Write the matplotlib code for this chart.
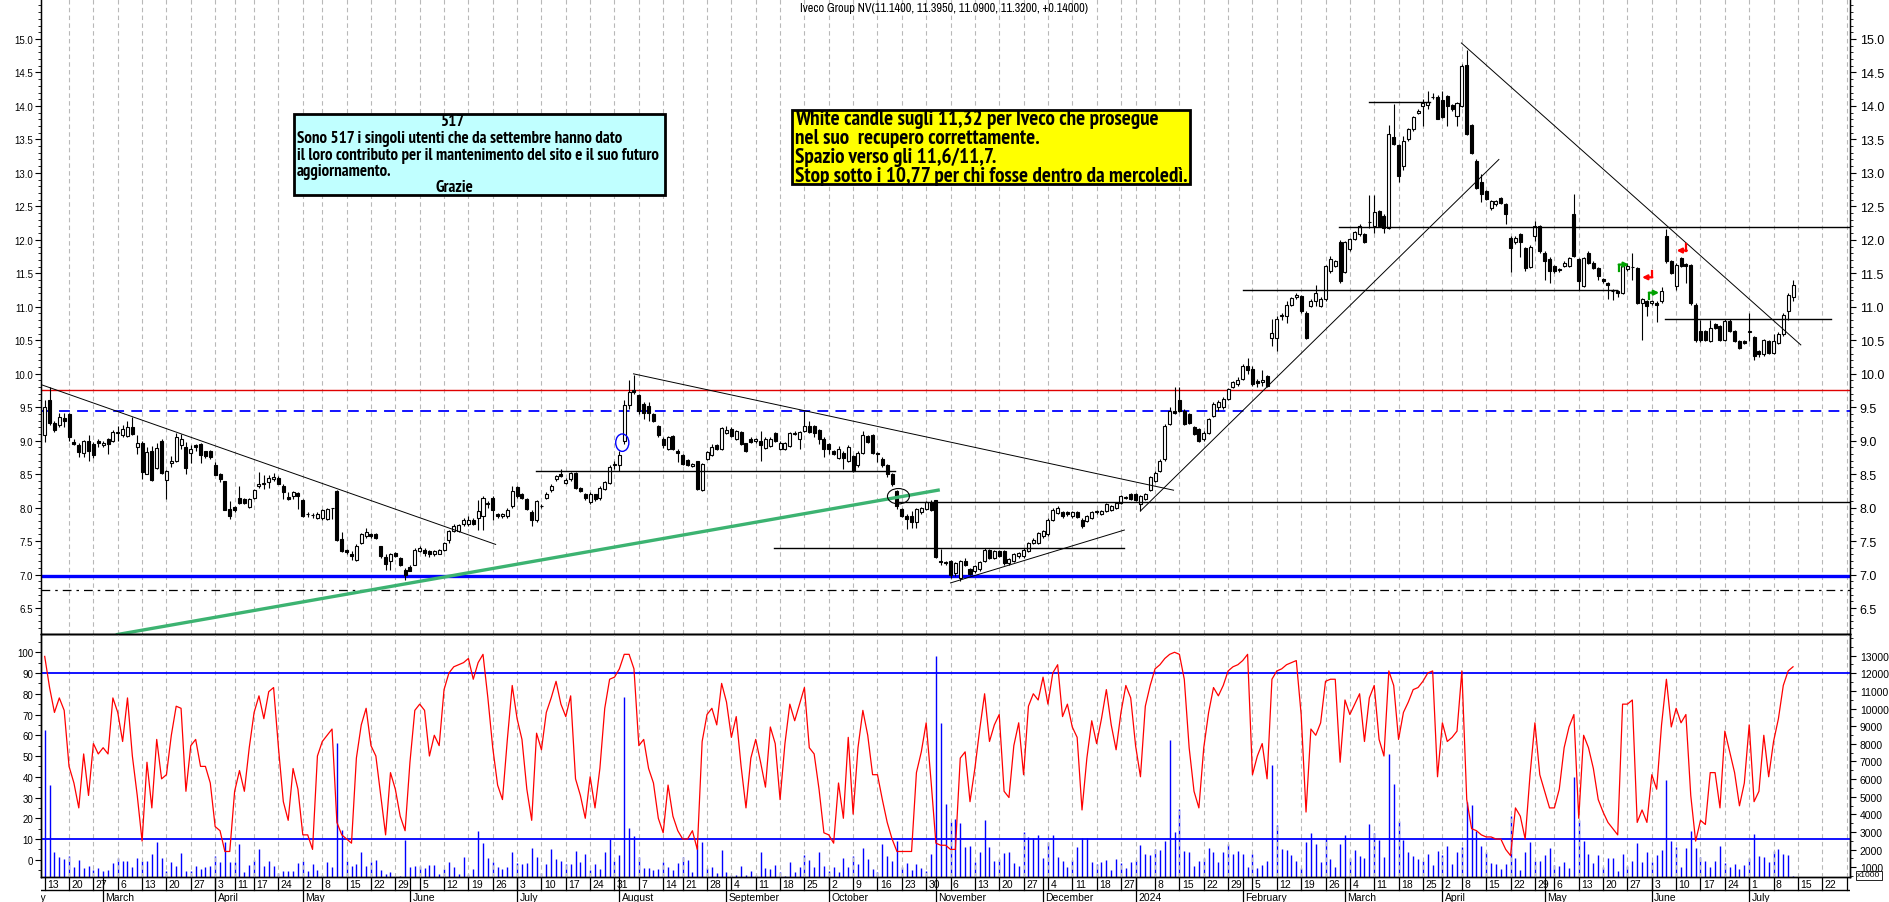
import numpy as np
import pandas as pd
import matplotlib
matplotlib.use('Agg')
import matplotlib.pyplot as plt
from matplotlib.patches import Rectangle, Ellipse
from matplotlib import font_manager as fm
from matplotlib.font_manager import FontProperties
from matplotlib.ticker import MultipleLocator

plt.rcParams['font.family'] = ['Liberation Sans', 'DejaVu Sans']


def _weight_num(w):
    if isinstance(w, (int, float)):
        return w
    return {'bold': 700, 'heavy': 800, 'black': 900, 'semibold': 600, 'demibold': 600,
            'medium': 500, 'normal': 400, 'regular': 400, 'book': 400,
            'light': 300}.get(str(w).lower(), 400)


def condensed_props(bold=True):
    """Pick an installed narrow/condensed sans face if there is one."""
    cands = []
    for f in fm.fontManager.ttflist:
        n = f.name.lower()
        st = str(f.stretch).lower()
        if 'mono' in n or 'serif' in n or 'cjk' in n:
            continue
        if str(f.style).lower() != 'normal':
            continue
        rank = None
        if 'narrow' in n:
            rank = 0
        elif 'condensed' in n or 'condensed' in st:
            rank = 1
        if rank is None:
            continue
        wn = _weight_num(f.weight)
        cands.append((rank, abs(wn - (700 if bold else 400)), f.fname))
    if cands:
        cands.sort()
        return FontProperties(fname=cands[0][2])
    return FontProperties(family=['Liberation Sans', 'DejaVu Sans'],
                          weight='bold' if bold else 'normal')


# ------------------------------------------------------------------ data
title = "Iveco Group NV(11.1400, 11.3950, 11.0900, 11.3200, +0.14000)"
first_bar = '2023-02-13'
market_holidays = ['2023-04-07', '2023-04-10', '2023-05-01', '2023-08-15', '2023-12-25',
                   '2023-12-26', '2024-01-01', '2024-03-29', '2024-04-01', '2024-05-01']

opens = [
 9.08, 9.61, 9.27, 9.23, 9.34, 9.40, 8.98, 8.93, 8.82, 9.00,
 8.95, 9.00, 8.93, 9.02, 9.00, 9.11, 9.08, 9.07, 9.20, 8.90,
 8.97, 8.50, 8.84, 8.59, 9.00, 8.41, 8.67, 8.69, 8.93, 8.90,
 8.82, 8.93, 8.95, 8.85, 8.85, 8.64, 8.50, 8.40, 7.98, 8.01,
 8.15, 8.13, 8.01, 8.15, 8.32, 8.35, 8.38, 8.43, 8.44, 8.32,
 8.16, 8.18, 8.22, 8.12, 7.91, 7.89, 7.84, 7.84, 7.83, 7.99,
 8.25, 7.53, 7.36, 7.31, 7.22, 7.47, 7.57, 7.60, 7.60, 7.42,
 7.26, 7.20, 7.32, 7.25, 7.07, 7.12, 7.15, 7.35, 7.37, 7.35,
 7.30, 7.31, 7.37, 7.52, 7.65, 7.65, 7.75, 7.75, 7.82, 7.85,
 7.87, 8.07, 8.15, 7.90, 7.87, 7.87, 8.02, 8.31, 8.20, 8.13,
 7.93, 7.82, 8.02, 8.15, 8.26, 8.42, 8.50, 8.37, 8.43, 8.52,
 8.30, 8.20, 8.08, 8.20, 8.14, 8.28, 8.37, 8.63, 8.63, 8.99,
 9.53, 9.75, 9.68, 9.55, 9.52, 9.40, 9.22, 9.02, 8.88, 9.07,
 8.85, 8.79, 8.71, 8.62, 8.69, 8.26, 8.73, 8.79, 8.93, 8.88,
 9.11, 9.18, 9.03, 9.13, 8.96, 9.03, 8.99, 8.99, 8.89, 8.92,
 9.11, 8.88, 8.88, 8.92, 9.10, 9.02, 9.15, 9.22, 9.22, 9.16,
 9.03, 8.95, 8.84, 8.74, 8.82, 8.70, 8.77, 8.63, 8.82, 9.07,
 9.09, 8.82, 8.73, 8.63, 8.50, 8.25, 7.98, 7.88, 7.88, 7.78,
 7.93, 7.98, 8.09, 8.11, 7.20, 7.18, 7.20, 7.02, 6.95, 7.20,
 7.08, 7.05, 7.08, 7.20, 7.37, 7.25, 7.35, 7.35, 7.17, 7.20,
 7.27, 7.27, 7.35, 7.47, 7.47, 7.57, 7.60, 7.82, 7.92, 7.93,
 7.93, 7.87, 7.93, 7.82, 7.80, 7.85, 7.95, 7.91, 7.95, 7.97,
 8.00, 8.07, 8.15, 8.20, 8.20, 8.05, 8.13, 8.27, 8.40, 8.55,
 8.72, 9.25, 9.45, 9.60, 9.45, 9.40, 9.20, 9.17, 9.02, 9.12,
 9.37, 9.50, 9.50, 9.62, 9.80, 9.85, 9.92, 10.12, 10.07, 9.89,
 9.87, 9.96, 10.54, 10.54, 10.86, 10.86, 11.03, 11.15, 11.16, 10.91,
 11.01, 11.09, 11.01, 11.11, 11.53, 11.61, 11.97, 11.52, 11.86, 12.01,
 12.08, 12.08, 12.26, 12.21, 12.43, 12.36, 12.18, 13.53, 13.41, 13.10,
 13.50, 13.65, 13.90, 14.00, 14.01, 14.13, 14.14, 14.09, 14.15, 14.01,
 13.85, 14.00, 14.61, 13.71, 13.18, 12.87, 12.73, 12.47, 12.53, 12.62,
 12.53, 12.03, 11.96, 12.08, 11.88, 11.60, 12.06, 12.20, 11.81, 11.72,
 11.61, 11.56, 11.61, 11.61, 12.38, 11.71, 11.31, 11.81, 11.66, 11.58,
 11.41, 11.35, 11.24, 11.23, 11.21, 11.56, 11.60, 11.58, 11.06, 11.08,
 11.05, 11.06, 11.08, 12.06, 11.68, 11.31, 11.73, 11.64, 11.62, 11.03,
 10.64, 10.64, 10.49, 10.74, 10.71, 10.51, 10.79, 10.64, 10.49, 10.49,
 10.63, 10.55, 10.34, 10.29, 10.49, 10.31, 10.46, 10.59, 10.93, 11.14]

closes = [
 9.50, 9.27, 9.16, 9.35, 9.29, 9.05, 8.95, 8.83, 8.99, 8.85,
 8.78, 8.96, 8.97, 8.95, 9.13, 9.13, 9.18, 9.20, 9.10, 8.97,
 8.53, 8.83, 8.41, 8.89, 8.52, 8.54, 8.70, 9.05, 9.03, 8.59,
 8.88, 8.90, 8.78, 8.77, 8.76, 8.49, 8.43, 7.97, 7.88, 7.96,
 8.07, 8.07, 8.13, 8.26, 8.35, 8.37, 8.44, 8.45, 8.36, 8.23,
 8.13, 8.23, 8.18, 7.88, 7.90, 7.89, 7.91, 7.96, 7.98, 7.99,
 7.52, 7.35, 7.33, 7.27, 7.42, 7.60, 7.64, 7.57, 7.55, 7.27,
 7.16, 7.30, 7.28, 7.15, 7.00, 7.06, 7.37, 7.40, 7.32, 7.30,
 7.35, 7.36, 7.47, 7.65, 7.73, 7.74, 7.82, 7.82, 7.76, 7.95,
 8.15, 8.05, 7.97, 7.87, 7.90, 7.97, 8.25, 8.17, 8.15, 7.98,
 7.82, 8.10, 8.03, 8.21, 8.33, 8.47, 8.47, 8.41, 8.52, 8.30,
 8.25, 8.14, 8.21, 8.13, 8.30, 8.38, 8.60, 8.65, 8.79, 9.53,
 9.72, 9.72, 9.45, 9.42, 9.42, 9.30, 9.08, 8.94, 9.05, 8.88,
 8.82, 8.65, 8.64, 8.65, 8.28, 8.65, 8.83, 8.90, 8.88, 9.19,
 9.16, 9.07, 9.14, 8.95, 8.85, 8.98, 9.02, 8.93, 9.03, 9.03,
 9.00, 8.97, 8.96, 9.11, 9.12, 9.13, 9.22, 9.13, 9.12, 9.02,
 8.88, 8.87, 8.80, 8.88, 8.74, 8.91, 8.55, 8.82, 9.09, 8.98,
 8.82, 8.80, 8.63, 8.50, 8.35, 8.03, 7.88, 7.83, 7.78, 7.98,
 7.99, 8.08, 7.97, 7.26, 7.18, 7.17, 7.00, 7.17, 7.20, 7.15,
 7.01, 7.13, 7.18, 7.37, 7.25, 7.35, 7.28, 7.17, 7.23, 7.30,
 7.32, 7.37, 7.47, 7.52, 7.62, 7.65, 7.82, 7.97, 8.00, 7.87,
 7.90, 7.93, 7.86, 7.72, 7.87, 7.93, 7.93, 7.95, 8.05, 8.02,
 8.07, 8.17, 8.16, 8.13, 8.12, 8.17, 8.20, 8.45, 8.52, 8.70,
 9.22, 9.45, 9.42, 9.45, 9.25, 9.27, 9.10, 9.00, 9.12, 9.32,
 9.55, 9.57, 9.62, 9.77, 9.87, 9.90, 10.12, 10.05, 9.84, 9.86,
 9.91, 9.82, 10.61, 10.81, 10.88, 11.03, 11.13, 11.17, 10.93, 10.54,
 11.09, 11.21, 11.11, 11.61, 11.71, 11.68, 11.38, 11.96, 12.01, 12.11,
 12.21, 11.97, 12.27, 12.41, 12.21, 12.18, 13.58, 13.43, 12.95, 13.48,
 13.65, 13.83, 13.93, 14.04, 14.06, 14.14, 13.81, 13.83, 14.00, 13.95,
 14.04, 14.60, 13.58, 13.30, 12.78, 12.68, 12.61, 12.58, 12.58, 12.55,
 12.38, 11.88, 12.03, 11.96, 11.58, 11.90, 12.21, 11.83, 11.68, 11.53,
 11.53, 11.55, 11.66, 11.73, 11.76, 11.38, 11.73, 11.66, 11.58, 11.46,
 11.38, 11.32, 11.23, 11.21, 11.61, 11.61, 11.60, 11.06, 11.11, 11.01,
 11.08, 11.03, 11.23, 11.68, 11.51, 11.63, 11.61, 11.61, 11.05, 10.50,
 10.50, 10.51, 10.69, 10.69, 10.51, 10.79, 10.64, 10.49, 10.39, 10.46,
 10.64, 10.26, 10.29, 10.50, 10.31, 10.49, 10.59, 10.88, 11.18, 11.32]

highs = [
 9.60, 9.80, 9.30, 9.42, 9.42, 9.42, 9.03, 8.96, 9.01, 9.08,
 8.98, 9.03, 9.00, 9.04, 9.16, 9.22, 9.23, 9.30, 9.35, 9.08,
 8.99, 8.90, 8.92, 8.96, 9.03, 8.56, 8.77, 9.12, 9.10, 8.98,
 8.93, 8.95, 8.97, 8.85, 8.86, 8.68, 8.52, 8.40, 8.10, 8.03,
 8.33, 8.15, 8.15, 8.28, 8.53, 8.48, 8.48, 8.52, 8.47, 8.35,
 8.23, 8.25, 8.23, 8.13, 7.93, 7.92, 7.93, 7.98, 7.99, 8.00,
 8.27, 7.64, 7.38, 7.35, 7.45, 7.62, 7.70, 7.62, 7.62, 7.42,
 7.30, 7.32, 7.34, 7.26, 7.10, 7.15, 7.40, 7.42, 7.39, 7.36,
 7.37, 7.38, 7.48, 7.67, 7.75, 7.76, 7.84, 7.87, 7.84, 8.12,
 8.17, 8.10, 8.17, 7.92, 7.92, 7.99, 8.32, 8.33, 8.22, 8.14,
 7.97, 8.12, 8.06, 8.23, 8.35, 8.49, 8.57, 8.44, 8.53, 8.53,
 8.31, 8.22, 8.23, 8.21, 8.32, 8.40, 8.63, 8.70, 8.85, 9.60,
 9.90, 9.98, 9.70, 9.58, 9.57, 9.42, 9.24, 9.05, 9.07, 9.08,
 8.87, 8.80, 8.73, 8.67, 8.70, 8.67, 8.85, 8.95, 8.95, 9.21,
 9.22, 9.20, 9.16, 9.15, 8.97, 9.05, 9.04, 9.15, 9.05, 9.05,
 9.13, 8.99, 8.98, 9.13, 9.15, 9.15, 9.45, 9.30, 9.24, 9.18,
 9.05, 8.97, 8.86, 8.92, 8.84, 8.93, 8.79, 8.84, 9.15, 9.09,
 9.10, 8.83, 8.75, 8.65, 8.52, 8.26, 8.00, 7.90, 7.95, 8.00,
 8.01, 8.10, 8.11, 8.12, 7.38, 7.20, 7.22, 7.19, 7.22, 7.25,
 7.10, 7.15, 7.20, 7.39, 7.38, 7.37, 7.37, 7.36, 7.25, 7.32,
 7.34, 7.40, 7.49, 7.54, 7.64, 7.67, 7.84, 7.99, 8.02, 7.95,
 7.95, 7.95, 7.95, 7.84, 7.89, 7.95, 7.97, 7.97, 8.07, 8.04,
 8.09, 8.19, 8.18, 8.22, 8.22, 8.19, 8.22, 8.47, 8.54, 8.72,
 9.25, 9.50, 9.80, 9.80, 9.47, 9.42, 9.22, 9.19, 9.14, 9.34,
 9.57, 9.60, 9.65, 9.79, 9.89, 9.95, 10.14, 10.23, 10.12, 9.92,
 10.05, 9.98, 10.81, 10.86, 10.90, 11.08, 11.15, 11.20, 11.18, 10.93,
 11.11, 11.33, 11.14, 11.63, 11.76, 11.70, 11.99, 11.98, 12.03, 12.13,
 12.23, 12.10, 12.67, 12.67, 12.45, 12.38, 13.72, 14.03, 13.43, 13.55,
 13.67, 13.85, 13.95, 14.10, 14.23, 14.20, 14.17, 14.23, 14.16, 14.03,
 14.06, 14.62, 14.83, 13.73, 13.20, 12.98, 12.75, 12.60, 12.60, 12.64,
 12.55, 12.05, 12.05, 12.10, 11.90, 11.92, 12.28, 12.22, 11.83, 11.74,
 11.63, 11.58, 11.68, 11.75, 12.68, 11.73, 11.75, 11.83, 11.68, 11.60,
 11.43, 11.37, 11.26, 11.25, 11.63, 11.66, 11.80, 11.60, 11.13, 11.10,
 11.10, 11.08, 11.30, 12.16, 11.70, 11.65, 11.75, 11.66, 11.64, 11.05,
 10.80, 10.66, 10.80, 10.76, 10.73, 10.81, 10.81, 10.66, 10.51, 10.51,
 10.91, 10.57, 10.36, 10.52, 10.51, 10.60, 10.62, 10.90, 11.20, 11.395]

lows = [
 8.98, 9.23, 9.13, 9.20, 9.20, 9.00, 8.93, 8.75, 8.75, 8.70,
 8.74, 8.90, 8.90, 8.80, 8.98, 9.00, 9.06, 9.06, 9.08, 8.80,
 8.43, 8.50, 8.40, 8.58, 8.50, 8.13, 8.60, 8.68, 8.88, 8.50,
 8.67, 8.85, 8.66, 8.74, 8.72, 8.48, 8.38, 7.96, 7.83, 7.93,
 8.05, 8.05, 7.99, 8.13, 8.30, 8.28, 8.30, 8.40, 8.35, 8.13,
 8.11, 8.13, 7.98, 7.86, 7.86, 7.85, 7.83, 7.82, 7.82, 7.83,
 7.50, 7.34, 7.30, 7.22, 7.20, 7.45, 7.55, 7.55, 7.53, 7.25,
 7.07, 7.07, 7.26, 7.13, 6.92, 7.05, 7.15, 7.33, 7.28, 7.26,
 7.28, 7.30, 7.35, 7.47, 7.63, 7.63, 7.73, 7.72, 7.74, 7.67,
 7.67, 8.00, 7.82, 7.85, 7.85, 7.85, 8.00, 8.15, 8.13, 7.96,
 7.72, 7.78, 7.99, 8.13, 8.24, 8.40, 8.45, 8.35, 8.40, 8.28,
 8.23, 8.12, 8.06, 8.10, 8.12, 8.26, 8.35, 8.58, 8.55, 8.95,
 9.47, 9.70, 9.40, 9.33, 9.30, 9.28, 9.06, 8.89, 8.86, 8.86,
 8.68, 8.63, 8.62, 8.60, 8.27, 8.25, 8.71, 8.77, 8.86, 8.86,
 9.10, 9.05, 9.01, 8.93, 8.83, 8.96, 8.97, 8.70, 8.87, 8.90,
 8.98, 8.86, 8.86, 8.90, 9.08, 8.88, 9.13, 9.11, 9.05, 8.95,
 8.75, 8.80, 8.78, 8.72, 8.58, 8.68, 8.53, 8.61, 8.80, 8.96,
 8.80, 8.68, 8.61, 8.45, 8.33, 7.98, 7.86, 7.68, 7.70, 7.70,
 7.91, 7.96, 7.95, 7.24, 7.15, 7.14, 6.95, 6.98, 6.90, 7.13,
 6.99, 7.03, 7.06, 7.18, 7.23, 7.23, 7.26, 7.15, 7.15, 7.18,
 7.25, 7.25, 7.33, 7.45, 7.45, 7.55, 7.58, 7.80, 7.90, 7.85,
 7.88, 7.85, 7.84, 7.70, 7.78, 7.83, 7.91, 7.89, 7.93, 7.95,
 7.98, 8.05, 8.13, 8.11, 8.10, 7.95, 8.11, 8.25, 8.38, 8.53,
 8.70, 9.23, 9.40, 9.43, 9.23, 9.25, 9.08, 8.98, 9.00, 9.10,
 9.35, 9.45, 9.48, 9.60, 9.78, 9.82, 9.90, 10.00, 9.82, 9.80,
 9.82, 9.80, 10.41, 10.34, 10.80, 10.76, 11.01, 11.12, 10.90, 10.52,
 10.99, 11.01, 10.99, 11.09, 11.51, 11.59, 11.36, 11.50, 11.84, 11.99,
 12.06, 11.95, 12.18, 12.10, 12.19, 12.10, 12.16, 13.41, 12.86, 13.05,
 13.48, 13.63, 13.88, 13.70, 13.95, 14.10, 13.80, 13.82, 13.70, 13.93,
 13.70, 13.98, 13.56, 13.28, 12.76, 12.56, 12.59, 12.45, 12.51, 12.53,
 12.24, 11.52, 11.94, 11.75, 11.53, 11.58, 11.98, 11.81, 11.40, 11.36,
 11.51, 11.52, 11.59, 11.59, 11.74, 11.25, 11.29, 11.64, 11.56, 11.40,
 11.36, 11.12, 11.10, 11.14, 11.19, 11.54, 11.40, 11.04, 10.51, 10.86,
 11.03, 10.77, 11.06, 11.66, 11.49, 11.25, 11.59, 11.35, 11.03, 10.48,
 10.48, 10.49, 10.47, 10.67, 10.49, 10.49, 10.62, 10.47, 10.37, 10.44,
 10.49, 10.20, 10.25, 10.27, 10.29, 10.29, 10.44, 10.57, 10.80, 11.09]

oscillator = [
 98, 83, 71, 78, 72, 45, 37, 25, 51, 31,
 56, 51, 54, 51, 78, 71, 57, 78, 50, 31,
 9, 47, 25, 58, 39, 41, 60, 74, 73, 33,
 55, 58, 45, 45, 37, 16, 14, 4, 4, 33,
 43, 33, 54, 71, 79, 68, 81, 83, 54, 28,
 19, 44, 34, 12, 12, 5, 50, 57, 60, 63,
 18, 12, 10, 8, 49, 65, 73, 55, 50, 31,
 12, 42, 34, 21, 14, 47, 72, 75, 72, 50,
 60, 55, 82, 90, 93, 94, 95, 97, 87, 95,
 99, 78, 54, 36, 29, 58, 84, 68, 58, 34,
 19, 61, 53, 71, 78, 86, 75, 69, 79, 39,
 31, 20, 40, 25, 44, 73, 87, 88, 92, 99,
 99, 92, 55, 58, 44, 37, 20, 13, 36, 21,
 14, 10, 10, 14, 5, 57, 70, 73, 65, 85,
 76, 59, 69, 45, 25, 49, 58, 47, 35, 64,
 56, 29, 56, 75, 67, 75, 83, 54, 51, 34,
 13, 12, 8, 37, 20, 59, 22, 54, 72, 60,
 41, 41, 29, 18, 10, 4, 4, 4, 4, 42,
 52, 66, 38, 8, 7, 7, 5, 5, 49, 52,
 28, 44, 63, 80, 57, 65, 70, 33, 30, 55,
 66, 41, 74, 80, 77, 88, 75, 90, 94, 69,
 75, 64, 59, 24, 49, 67, 56, 68, 82, 65,
 53, 71, 84, 78, 55, 40, 74, 84, 92, 94,
 97, 99, 100, 99, 87, 54, 33, 25, 54, 71,
 83, 79, 84, 91, 93, 94, 96, 99, 41, 50,
 56, 39, 87, 91, 92, 94, 95, 96, 70, 23,
 63, 60, 66, 86, 87, 87, 47, 77, 70, 75,
 80, 57, 78, 84, 58, 50, 91, 84, 58, 71,
 76, 82, 83, 86, 90, 91, 40, 66, 57, 59,
 62, 91, 29, 15, 14, 12, 11, 11, 10, 10,
 5, 2, 25, 21, 10, 41, 66, 41, 33, 25,
 25, 34, 54, 64, 70, 20, 60, 54, 44, 29,
 23, 18, 15, 12, 75, 75, 77, 18, 24, 18,
 41, 34, 65, 87, 64, 73, 66, 70, 31, 9,
 19, 17, 42, 42, 25, 62, 52, 42, 26, 37,
 65, 28, 33, 60, 40, 57, 68, 84, 91, 93]

volume_k = [
 8785, 5667, 1849, 1565, 1470, 1622, 998, 1433, 960, 1055,
 866, 960, 772, 866, 1244, 1528, 1377, 1339, 1036, 1528,
 1377, 1339, 1755, 2454, 1528, 810, 1282, 1055, 1812, 810,
 810, 1055, 904, 998, 1055, 1660, 1282, 2416, 1282, 1282,
 2322, 753, 1131, 1433, 2038, 1093, 1358, 1093, 677, 810,
 810, 810, 1244, 1339, 810, 1188, 866, 583, 1320, 1036,
 8029, 3115, 1377, 1093, 1188, 1849, 1093, 1320, 1414, 866,
 620, 753, 526, 526, 2567, 998, 1093, 1055, 942, 1131,
 1131, 620, 904, 1282, 998, 620, 1565, 620, 904, 3078,
 2378, 1509, 1282, 998, 904, 998, 1887, 1244, 1188, 1244,
 2095, 1565, 677, 1188, 2038, 1470, 1339, 1188, 1188, 1944,
 1282, 1755, 866, 1188, 904, 1887, 2605, 1377, 1698, 10638,
 3229, 2756, 1603, 960, 960, 866, 904, 1320, 1036, 866,
 1244, 1584, 1414, 753, 2265, 2454, 960, 1036, 677, 1981,
 753, 564, 583, 1093, 564, 810, 564, 1887, 960, 904,
 1131, 753, 526, 1282, 753, 998, 1698, 1433, 1036, 1887,
 1055, 772, 998, 715, 1528, 1036, 1622, 1188, 2095, 1470,
 904, 753, 2322, 1660, 1377, 2511, 998, 1244, 866, 1188,
 942, 810, 1755, 13000, 9182, 4590, 3588, 3739, 3512, 2170,
 2227, 1282, 1849, 3682, 2170, 1358, 1470, 1812, 1887, 1244,
 1055, 3021, 2737, 2643, 2851, 1528, 2454, 2851, 1565, 1358,
 998, 1433, 2133, 2643, 2643, 1282, 1188, 1282, 1414, 866,
 1470, 1244, 960, 1282, 1414, 2265, 1736, 1717, 2038, 1981,
 2511, 8237, 3021, 4306, 1944, 1849, 1055, 1377, 1528, 2095,
 1849, 1282, 1849, 2322, 1755, 1944, 1755, 998, 1755, 960,
 1131, 1377, 6800, 3399, 2038, 1981, 1698, 1377, 960, 2454,
 2945, 2322, 1320, 2643, 1470, 1036, 2322, 2832, 1509, 1981,
 1660, 1528, 3455, 2926, 2567, 1565, 7425, 5724, 3645, 2567,
 1887, 1622, 1470, 1377, 1755, 1150, 1944, 1717, 2227, 1188,
 1887, 2170, 4684, 4533, 3078, 2227, 1849, 1244, 1188, 904,
 1188, 3890, 1509, 866, 1887, 2454, 1377, 1377, 1698, 2076,
 1131, 1055, 1320, 960, 6100, 3700, 2511, 1755, 1244, 1698,
 998, 1509, 1509, 810, 1755, 1055, 1377, 2378, 1320, 1887,
 1282, 1698, 1981, 5950, 2511, 2133, 1036, 2095, 3078, 2095,
 1565, 1377, 1036, 1377, 2227, 1225, 998, 1188, 904, 1131,
 1528, 2888, 1660, 1565, 1320, 1906, 2038, 1755, 1698, 520]

# drawn analysis objects (bar index, price)
red_level = 9.75
blue_dashed_level = 9.44
blue_level = 6.98
dashdot_level = 6.77
flat_lines = [(8.55, 100.8, 174.5), (8.09, 175.5, None), (7.40, 149.8, 221.7),
              (14.06, 272.0, 284.4), (12.19, 265.8, None), (11.25, 246.0, 322.9),
              (10.81, 332.8, 366.7)]
trend_lines = [(-0.66, 9.835, 92.6, 7.45), (120.9, 9.998, 231.8, 8.26),
               (186.0, 6.875, 221.7, 7.665), (225.0, 7.95, 298.6, 13.20),
               (290.9, 14.94, 360.6, 10.43)]
green_line = (14.6, 6.10, 183.8, 8.265)
osc_levels = [90, 10]
green_arrows = [(323.9, 11.63), (330.1, 11.21)]
red_arrows = [(329.4, 11.44), (336.5, 11.84)]

info_lines = ["Sono 517 i singoli utenti che da settembre hanno dato",
              "il loro contributo per il mantenimento del sito e il suo futuro",
              "aggiornamento."]
comment_lines = ["White candle sugli 11,32 per Iveco che prosegue",
                 "nel suo  recupero correttamente.",
                 "Spazio verso gli 11,6/11,7.",
                 "Stop sotto i 10,77 per chi fosse dentro da mercoledì."]

# ------------------------------------------------------------------ calendar
hol = pd.to_datetime(market_holidays)
cal = pd.bdate_range('2023-01-30', '2024-08-02')
cal = cal[~cal.isin(hol)]
pos = np.arange(len(cal)) - cal.get_loc(pd.Timestamp(first_bar))
week_id = np.asarray((cal - pd.Timestamp('2023-01-02')).days) // 7
week_start = np.r_[True, np.diff(week_id) != 0]
month_start = np.r_[True, np.diff(np.asarray(cal.month)) != 0]

# ------------------------------------------------------------------ layout
W, HH = 1890, 903
X0, DX = 44.7, 4.87
LPX, RPX = 41.5, 1850
XL = ((LPX - X0) / DX, (RPX - X0) / DX)


def fx(p):
    return p / W


def fy(p):
    return 1 - p / HH


fig = plt.figure(figsize=(W / 100, HH / 100), dpi=100)
fig.patch.set_facecolor('white')
ax = fig.add_axes([fx(LPX), fy(635), (RPX - LPX) / W, 635 / HH])
axl = fig.add_axes([fx(LPX), fy(878), (RPX - LPX) / W, (878 - 635) / HH])
axd = fig.add_axes([fx(LPX), 0, (RPX - LPX) / W, 25 / HH])

GRID = dict(color='#b8b8b8', lw=0.8, ls=(0, (4, 3)), zorder=0)
for w in pos[week_start]:
    if XL[0] + 1 < w < XL[1]:
        ax.axvline(w, **GRID)
        axl.axvline(w, **GRID)

# ---- price panel
x = np.arange(len(closes))
O, C, Hi, Lo = map(np.array, (opens, closes, highs, lows))
up = C >= O
ax.vlines(x, Lo, Hi, color='black', lw=0.8, zorder=3)
ax.bar(x[up], C[up] - O[up], bottom=O[up], width=0.62, color='white',
       edgecolor='black', lw=0.8, zorder=4)
ax.bar(x[~up], O[~up] - C[~up], bottom=C[~up], width=0.62, color='black',
       edgecolor='black', lw=0.8, zorder=4)

ax.axhline(red_level, color='#e00000', lw=1.0, zorder=2)
ax.axhline(blue_dashed_level, color='#0000ff', lw=1.3, ls=(0, (6, 4)), zorder=2)
ax.axhline(blue_level, color='#0000ff', lw=2.4, zorder=2)
ax.axhline(dashdot_level, color='black', lw=0.9, ls=(0, (7, 4, 2, 4)), zorder=2)
for p, a, b in flat_lines:
    ax.plot([a, XL[1] if b is None else b], [p, p], color='black', lw=1.0, zorder=5)
for a, pa, b, pb in trend_lines:
    ax.plot([a, b], [pa, pb], color='black', lw=0.7, zorder=5)
ax.plot([green_line[0], green_line[2]], [green_line[1], green_line[3]],
        color='#3cb371', lw=2.4, zorder=5, solid_capstyle='butt')
ax.add_patch(Ellipse((118.6, 8.97), 2.7, 0.26, fill=False, ec='#0000ff', lw=1.0, zorder=6))
ax.add_patch(Ellipse((175.3, 8.17), 4.5, 0.23, fill=False, ec='black', lw=0.8, zorder=6))
for gx, gy in green_arrows:
    ax.plot([gx - 0.6, gx - 0.6], [gy - 0.09, gy], color='#00a000', lw=1.6, zorder=7)
    ax.annotate('', xy=(gx + 1.4, gy), xytext=(gx - 0.7, gy),
                arrowprops=dict(arrowstyle='-|>', color='#00a000', lw=1.6,
                                mutation_scale=7, shrinkA=0, shrinkB=0), zorder=7)
for rx, ry in red_arrows:
    ax.plot([rx + 0.6, rx + 0.6], [ry, ry + 0.09], color='#ff0000', lw=1.6, zorder=7)
    ax.annotate('', xy=(rx - 1.4, ry), xytext=(rx + 0.7, ry),
                arrowprops=dict(arrowstyle='-|>', color='#ff0000', lw=1.6,
                                mutation_scale=7, shrinkA=0, shrinkB=0), zorder=7)

ax.set_xlim(*XL)
ax.set_ylim(6.112, 15.597)
ax.set_xticks([])
ax.spines['top'].set_visible(False)
for s in ('left', 'right', 'bottom'):
    ax.spines[s].set_color('black')
    ax.spines[s].set_linewidth(1.0)
pt = np.arange(6.5, 15.01, 0.5)
ax.set_yticks(pt)
ax.set_yticklabels([f'{v:.1f}' for v in pt])
ax.yaxis.set_minor_locator(MultipleLocator(0.1))
ax.tick_params(axis='y', which='major', length=4, width=0.8, labelsize=7, pad=2)
ax.tick_params(axis='y', which='minor', length=2, width=0.6)
axr = ax.twinx()
axr.set_ylim(ax.get_ylim())
axr.set_yticks(pt)
axr.set_yticklabels([f'{v:.1f}' for v in pt])
axr.yaxis.set_minor_locator(MultipleLocator(0.1))
axr.tick_params(axis='y', which='major', length=4, width=0.8, labelsize=9, pad=3)
axr.tick_params(axis='y', which='minor', length=2, width=0.6)
axr.spines['top'].set_visible(False)

# ---- oscillator / volume panel
axv = axl.twinx()
axl.set_zorder(axv.get_zorder() + 1)
axl.patch.set_visible(False)
axv.vlines(x, 0, volume_k, color='#0000ff', lw=1.0)
axv.set_ylim(450, 14228)
axv.set_yticks(np.arange(1000, 13001, 1000))
axv.yaxis.set_minor_locator(MultipleLocator(500))
axv.tick_params(axis='y', which='major', length=4, width=0.8, labelsize=7.5, pad=3)
axv.tick_params(axis='y', which='minor', length=2, width=0.6)
for lv in osc_levels:
    axl.axhline(lv, color='#0000ff', lw=1.3, zorder=2)
axl.plot(x, oscillator, color='#ff0000', lw=0.9, zorder=4)
axl.set_xlim(*XL)
axv.set_xlim(*XL)
axl.set_ylim(-8.3, 108.8)
axl.set_yticks(np.arange(0, 101, 10))
axl.yaxis.set_minor_locator(MultipleLocator(5))
axl.tick_params(axis='y', which='major', length=4, width=0.8, labelsize=7, pad=2)
axl.tick_params(axis='y', which='minor', length=2, width=0.6)
axl.set_xticks([])
for a in (axl, axv):
    for s in a.spines.values():
        s.set_color('black')
        s.set_linewidth(1.0)

# ---- date axis
axd.set_xlim(*XL)
axd.set_ylim(0, 1)
axd.axis('off')
yl = (903 - 890.7) / 25
axd.axhline(yl, color='black', lw=1.0)
months = ['January', 'February', 'March', 'April', 'May', 'June', 'July', 'August',
          'September', 'October', 'November', 'December']
prev = -99
for k in np.where(week_start)[0]:
    w = pos[k]
    if w < XL[0] - 1 or w > XL[1] + 1:
        prev = w
        continue
    axd.plot([w, w], [yl, 1], color='black', lw=0.9, clip_on=True)
    if w - prev >= 4:
        axd.text(w + 0.5, (903 - 885) / 25, str(cal[k].day), fontsize=7.5,
                 ha='left', va='center', clip_on=True)
    prev = w
for k in np.where(month_start)[0]:
    m = pos[k]
    d = cal[k]
    if m < XL[0] - 12:
        continue
    name = str(d.year) if d.month == 1 else months[d.month - 1]
    axd.plot([m, m], [0, 1], color='black', lw=0.9, clip_on=True)
    xt = m + 0.5 if m > XL[0] else m - 0.3
    axd.text(xt, (903 - 898) / 25, name, fontsize=7.5, ha='left', va='center',
             clip_on=True)

# ---- texts and boxes
renderer = fig.canvas.get_renderer()


def fit_lines(texts, target_px):
    widths = [t.get_window_extent(renderer).width for t in texts]
    s = target_px / max(widths)
    for t in texts:
        t.set_fontsize(t.get_fontsize() * s)


cprop = condensed_props(bold=True)
nprop = condensed_props(bold=False)

ttl = fig.text(fx(944), fy(9), title, ha='center', va='center',
               fontproperties=nprop)
ttl.set_fontsize(7.5)
fit_lines([ttl], 288)

fig.add_artist(Rectangle((fx(294), fy(196)), (665 - 294) / W, (196 - 115) / HH,
                         transform=fig.transFigure, facecolor='#c0ffff',
                         edgecolor='black', lw=2.0, zorder=10))
cyan_txt = [fig.text(fx(452), fy(122), '517', ha='center', va='center',
                     fontproperties=cprop, zorder=11)]
for k, t in enumerate(info_lines):
    cyan_txt.append(fig.text(fx(297), fy(139 + 16.5 * k), t, ha='left', va='center',
                             fontproperties=cprop, zorder=11))
cyan_txt.append(fig.text(fx(454), fy(188), 'Grazie', ha='center', va='center',
                         fontproperties=cprop, zorder=11))
for t in cyan_txt:
    t.set_fontsize(10)
fit_lines(cyan_txt, 364)

fig.add_artist(Rectangle((fx(792), fy(185)), (1190 - 792) / W, (185 - 111) / HH,
                         transform=fig.transFigure, facecolor='#ffff00',
                         edgecolor='black', lw=2.0, zorder=10))
yel_txt = []
for k, t in enumerate(comment_lines):
    yel_txt.append(fig.text(fx(795), fy(119.5 + 19 * k), t, ha='left', va='center',
                            fontproperties=cprop, zorder=11))
for t in yel_txt:
    t.set_fontsize(12)
fit_lines(yel_txt, 392)

fig.text(fx(1869), fy(876), 'x1000', ha='center', va='center', fontsize=6,
         bbox=dict(boxstyle='square,pad=0.12', fc='white', ec='black', lw=0.6))

fig.savefig('out.png', dpi=100, facecolor='white')
